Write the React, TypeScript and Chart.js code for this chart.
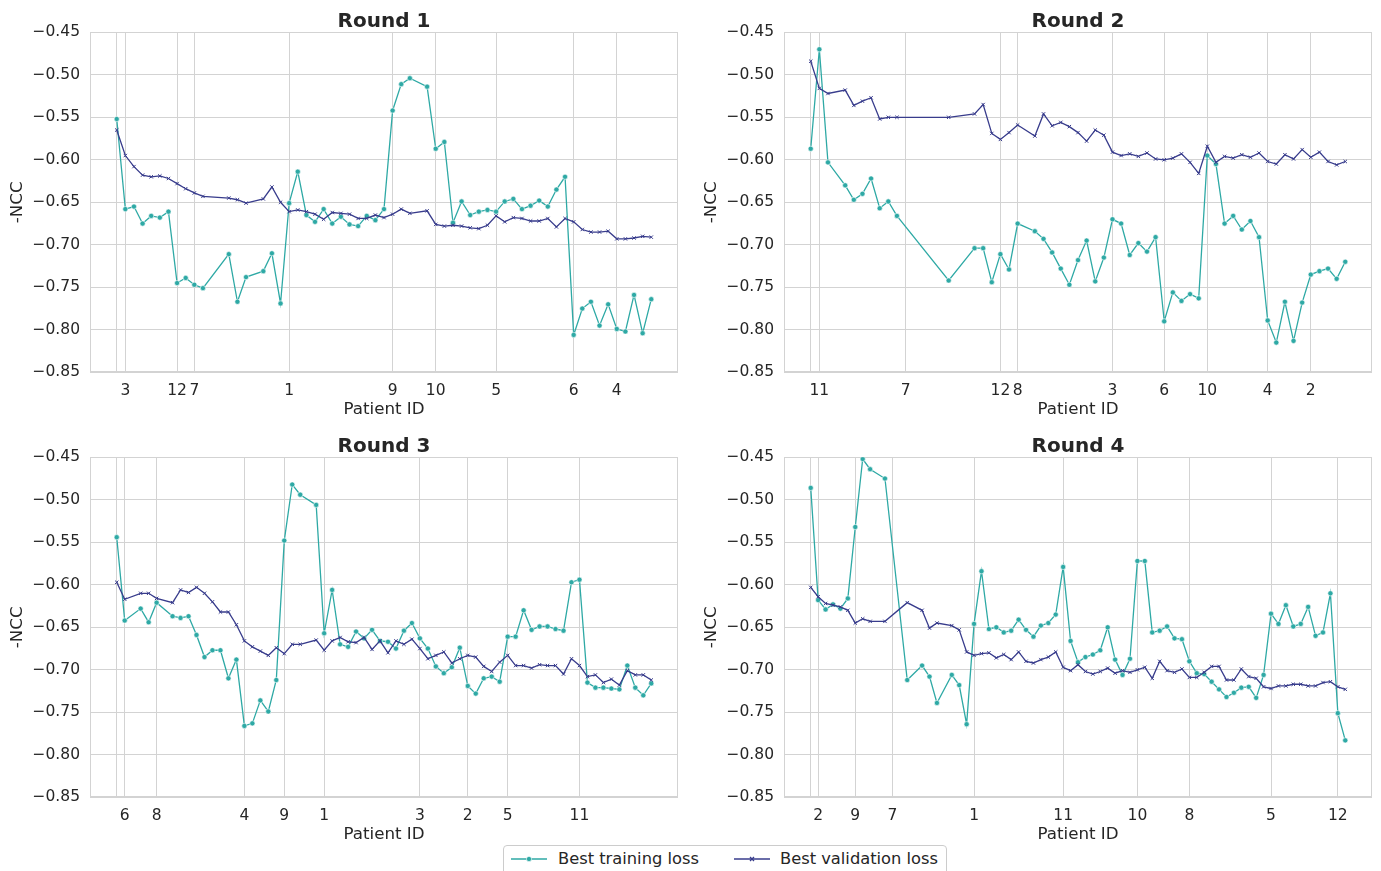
import React, { useEffect, useRef } from "react";
import { Chart, registerables } from "chart.js";

Chart.register(...registerables);
Chart.defaults.font.family = "'DejaVu Sans', sans-serif";
Chart.defaults.color = "#262626";

const TEAL = "#2ea9a5";
const NAVY = "#383c8c";
const GRID = "#d3d3d3";

// ---------- Round 1 ----------
const r1Ticks = [0, 1, 7, 9, 20, 32, 37, 44, 53, 58];
const r1TickLabels = ["", "3", "12", "7", "1", "9", "10", "5", "6", "4"];
const r1Idx = [0,1,2,3,4,5,6,7,8,9,10,13,14,15,17,18,19,20,21,22,23,24,25,26,27,28,29,30,31,32,33,34,36,37,38,39,40,41,42,43,44,45,46,47,48,49,50,51,52,53,54,55,56,57,58,59,60,61,62];
const r1Train = [-0.552,-0.658,-0.655,-0.675,-0.666,-0.668,-0.661,-0.745,-0.739,-0.747,-0.751,-0.711,-0.767,-0.738,-0.731,-0.710,-0.769,-0.651,-0.614,-0.665,-0.673,-0.658,-0.675,-0.667,-0.676,-0.678,-0.666,-0.671,-0.658,-0.542,-0.511,-0.504,-0.514,-0.587,-0.579,-0.674,-0.649,-0.665,-0.661,-0.659,-0.661,-0.649,-0.646,-0.658,-0.654,-0.648,-0.655,-0.635,-0.620,-0.806,-0.775,-0.767,-0.795,-0.770,-0.799,-0.802,-0.759,-0.804,-0.764];
const r1Val = [-0.565,-0.595,-0.608,-0.618,-0.620,-0.619,-0.622,-0.628,-0.634,-0.639,-0.643,-0.645,-0.647,-0.651,-0.646,-0.632,-0.650,-0.661,-0.659,-0.661,-0.664,-0.670,-0.662,-0.663,-0.664,-0.669,-0.669,-0.665,-0.668,-0.664,-0.658,-0.663,-0.660,-0.676,-0.678,-0.677,-0.678,-0.680,-0.681,-0.677,-0.666,-0.673,-0.668,-0.669,-0.672,-0.672,-0.669,-0.679,-0.669,-0.673,-0.682,-0.685,-0.685,-0.684,-0.693,-0.693,-0.692,-0.690,-0.691];

// ---------- Round 2 ----------
const r2Ticks = [0, 1, 11, 22, 24, 35, 41, 46, 53, 58];
const r2TickLabels = ["", "11", "7", "12", "8", "3", "6", "10", "4", "2"];
const r2Idx = [0,1,2,4,5,6,7,8,9,10,16,19,20,21,22,23,24,26,27,28,29,30,31,32,33,34,35,36,37,38,39,40,41,42,43,44,45,46,47,48,49,50,51,52,53,54,55,56,57,58,59,60,61,62];
const r2Train = [-0.587,-0.470,-0.603,-0.630,-0.647,-0.640,-0.622,-0.657,-0.649,-0.666,-0.742,-0.704,-0.704,-0.744,-0.711,-0.729,-0.675,-0.684,-0.693,-0.709,-0.728,-0.747,-0.718,-0.695,-0.743,-0.715,-0.670,-0.675,-0.712,-0.698,-0.708,-0.691,-0.790,-0.756,-0.766,-0.758,-0.763,-0.595,-0.605,-0.675,-0.666,-0.682,-0.672,-0.691,-0.789,-0.815,-0.767,-0.813,-0.768,-0.735,-0.731,-0.728,-0.740,-0.720];
const r2Val = [-0.484,-0.516,-0.522,-0.518,-0.536,-0.531,-0.527,-0.552,-0.550,-0.550,-0.550,-0.546,-0.535,-0.569,-0.576,-0.568,-0.559,-0.572,-0.546,-0.560,-0.556,-0.561,-0.568,-0.578,-0.565,-0.571,-0.591,-0.595,-0.593,-0.596,-0.592,-0.599,-0.600,-0.598,-0.593,-0.603,-0.616,-0.584,-0.603,-0.596,-0.598,-0.594,-0.597,-0.592,-0.602,-0.605,-0.594,-0.599,-0.588,-0.597,-0.591,-0.602,-0.606,-0.602];

// ---------- Round 3 ----------
const r3Ticks = [0, 1, 5, 16, 21, 26, 38, 44, 49, 58];
const r3TickLabels = ["", "6", "8", "4", "9", "1", "3", "2", "5", "11"];
const r3Idx = [0,1,3,4,5,7,8,9,10,11,12,13,14,15,16,17,18,19,20,21,22,23,25,26,27,28,29,30,31,32,33,34,35,36,37,38,39,40,41,42,43,44,45,46,47,48,49,50,51,52,53,54,55,56,57,58,59,60,61,62,63,64,65,66,67];
const r3Train = [-0.544,-0.642,-0.628,-0.644,-0.621,-0.637,-0.639,-0.637,-0.659,-0.685,-0.677,-0.677,-0.710,-0.688,-0.766,-0.763,-0.736,-0.749,-0.712,-0.548,-0.482,-0.494,-0.506,-0.657,-0.606,-0.670,-0.673,-0.655,-0.663,-0.653,-0.666,-0.667,-0.675,-0.654,-0.645,-0.663,-0.675,-0.696,-0.704,-0.697,-0.674,-0.719,-0.728,-0.710,-0.708,-0.714,-0.661,-0.661,-0.630,-0.653,-0.649,-0.649,-0.652,-0.654,-0.597,-0.594,-0.715,-0.721,-0.721,-0.722,-0.723,-0.695,-0.721,-0.730,-0.716];
const r3Val = [-0.597,-0.617,-0.610,-0.610,-0.616,-0.621,-0.606,-0.609,-0.603,-0.610,-0.620,-0.632,-0.632,-0.647,-0.666,-0.673,-0.678,-0.683,-0.674,-0.681,-0.670,-0.670,-0.665,-0.677,-0.666,-0.662,-0.667,-0.668,-0.662,-0.676,-0.666,-0.680,-0.666,-0.670,-0.664,-0.675,-0.687,-0.683,-0.679,-0.692,-0.687,-0.683,-0.685,-0.696,-0.702,-0.691,-0.683,-0.695,-0.695,-0.698,-0.694,-0.695,-0.695,-0.705,-0.687,-0.695,-0.708,-0.706,-0.715,-0.711,-0.718,-0.701,-0.706,-0.706,-0.712];

// ---------- Round 4 ----------
const r4Ticks = [0, 1, 6, 11, 22, 34, 44, 51, 62, 71];
const r4TickLabels = ["", "2", "9", "7", "1", "11", "10", "8", "5", "12"];
const r4Idx = [0,1,2,3,4,5,6,7,8,10,13,15,16,17,19,20,21,22,23,24,25,26,27,28,29,30,31,32,33,34,35,36,37,38,39,40,41,42,43,44,45,46,47,48,49,50,51,52,53,54,55,56,57,58,59,60,61,62,63,64,65,66,67,68,69,70,71,72];
const r4Train = [-0.486,-0.618,-0.629,-0.623,-0.628,-0.616,-0.532,-0.452,-0.464,-0.475,-0.712,-0.695,-0.708,-0.739,-0.706,-0.718,-0.764,-0.646,-0.584,-0.652,-0.650,-0.656,-0.654,-0.641,-0.653,-0.661,-0.648,-0.645,-0.635,-0.579,-0.666,-0.691,-0.685,-0.682,-0.677,-0.650,-0.688,-0.706,-0.687,-0.572,-0.572,-0.656,-0.654,-0.649,-0.663,-0.664,-0.690,-0.704,-0.705,-0.714,-0.723,-0.732,-0.727,-0.721,-0.720,-0.733,-0.706,-0.634,-0.646,-0.624,-0.649,-0.646,-0.626,-0.660,-0.656,-0.610,-0.751,-0.783];
const r4Val = [-0.603,-0.614,-0.622,-0.624,-0.626,-0.630,-0.645,-0.640,-0.643,-0.643,-0.621,-0.630,-0.651,-0.645,-0.648,-0.653,-0.679,-0.683,-0.681,-0.680,-0.686,-0.682,-0.688,-0.679,-0.690,-0.692,-0.688,-0.685,-0.679,-0.697,-0.701,-0.694,-0.702,-0.705,-0.702,-0.698,-0.704,-0.701,-0.703,-0.700,-0.697,-0.710,-0.690,-0.701,-0.703,-0.699,-0.709,-0.709,-0.703,-0.696,-0.696,-0.712,-0.712,-0.699,-0.708,-0.710,-0.720,-0.722,-0.719,-0.719,-0.717,-0.717,-0.719,-0.719,-0.715,-0.714,-0.720,-0.723];

const boxPlugin = {
  id: "plotBox",
  beforeDatasetsDraw(chart: any) {
    const { ctx, chartArea: a } = chart;
    ctx.save();
    ctx.strokeStyle = GRID;
    ctx.lineWidth = 1;
    ctx.strokeRect(Math.round(a.left) + 0.5, Math.round(a.top) + 0.5, Math.round(a.right - a.left) - 1, Math.round(a.bottom - a.top) - 1);
    ctx.restore();
  },
};

type RoundProps = {
  title: string;
  idx: number[];
  train: number[];
  val: number[];
  ticks: number[];
  tickLabels: string[];
  left: number;
  top: number;
  width: number;
  height: number;
  padRight: number;
};

function RoundChart(p: RoundProps) {
  const ref = useRef<HTMLCanvasElement | null>(null);
  useEffect(() => {
    const n = Math.max(...p.idx);
    const chart = new Chart(ref.current as HTMLCanvasElement, {
      type: "line",
      data: {
        datasets: [
          {
            label: "Best training loss",
            data: p.idx.map((x, i) => ({ x, y: p.train[i] })),
            borderColor: TEAL,
            backgroundColor: TEAL,
            borderWidth: 1.3,
            pointStyle: "circle",
            pointRadius: 2.6,
            pointBackgroundColor: TEAL,
            pointBorderColor: "#ffffff",
            pointBorderWidth: 0.6,
            tension: 0,
            order: 2,
          },
          {
            label: "Best validation loss",
            data: p.idx.map((x, i) => ({ x, y: p.val[i] })),
            borderColor: NAVY,
            backgroundColor: NAVY,
            borderWidth: 1.3,
            pointStyle: "crossRot",
            pointRadius: 2.4,
            pointBackgroundColor: NAVY,
            pointBorderColor: NAVY,
            pointBorderWidth: 1,
            tension: 0,
            order: 1,
          },
        ],
      },
      options: {
        responsive: false,
        animation: false,
        events: [],
        layout: { padding: { left: 0, right: p.padRight, top: 0, bottom: 0 } },
        plugins: {
          legend: { display: false },
          tooltip: { enabled: false },
          title: {
            display: true,
            text: p.title,
            fullSize: false,
            color: "#262626",
            font: { size: 20, weight: "bold", lineHeight: 1 },
            padding: { top: 12, bottom: 0.3 },
          },
        },
        scales: {
          x: {
            type: "linear",
            min: -0.05 * n,
            max: 1.05 * n,
            afterBuildTicks: (s: any) => {
              s.ticks = p.ticks.map((v) => ({ value: v }));
            },
            afterFit: (s: any) => {
              s.height = 52.7;
            },
            ticks: {
              autoSkip: false,
              maxRotation: 0,
              minRotation: 0,
              padding: 9,
              color: "#262626",
              font: { size: 15.5 },
              callback: (_v: any, i: number) => p.tickLabels[i],
            },
            grid: { color: GRID, lineWidth: 1, drawTicks: false },
            border: { display: false },
            title: {
              display: true,
              text: "Patient ID",
              color: "#262626",
              font: { size: 16.7 },
              padding: { top: 0, bottom: 5 },
            },
          },
          y: {
            min: -0.85,
            max: -0.45,
            afterFit: (s: any) => {
              s.width = 90;
            },
            ticks: {
              stepSize: 0.05,
              padding: 10,
              color: "#262626",
              font: { size: 15.5 },
              callback: (v: any) => "\u2212" + Math.abs(Number(v)).toFixed(2),
            },
            grid: { color: GRID, lineWidth: 1, drawTicks: false },
            border: { display: false },
            title: {
              display: true,
              text: "-NCC",
              color: "#262626",
              font: { size: 16.7 },
              padding: { top: 8, bottom: 0 },
            },
          },
        },
      } as any,
      plugins: [boxPlugin],
    });
    return () => chart.destroy();
  }, []);
  return (
    <canvas
      ref={ref}
      width={p.width}
      height={p.height}
      style={{ position: "absolute", left: p.left, top: p.top, width: p.width, height: p.height }}
    />
  );
}

function Legend() {
  const font = "'DejaVu Sans', sans-serif";
  return (
    <div
      style={{
        position: "absolute",
        left: 503,
        top: 845,
        width: 444,
        height: 34,
        boxSizing: "border-box",
        border: "1px solid #cccccc",
        borderRadius: 4,
        background: "#ffffff",
        fontFamily: font,
        fontSize: 16.3,
        color: "#262626",
      }}
    >
      <svg width={40} height={20} style={{ position: "absolute", left: 6, top: 3 }}>
        <line x1={1} y1={10} x2={37} y2={10} stroke={TEAL} strokeWidth={1.3} />
        <circle cx={19} cy={10} r={2.6} fill={TEAL} stroke="#fff" strokeWidth={0.6} />
      </svg>
      <span style={{ position: "absolute", left: 54, top: 3, lineHeight: "20px", whiteSpace: "nowrap" }}>Best training loss</span>
      <svg width={40} height={20} style={{ position: "absolute", left: 229, top: 3 }}>
        <line x1={1} y1={10} x2={37} y2={10} stroke={NAVY} strokeWidth={1.3} />
        <line x1={17} y1={8} x2={21} y2={12} stroke={NAVY} strokeWidth={1.2} />
        <line x1={17} y1={12} x2={21} y2={8} stroke={NAVY} strokeWidth={1.2} />
      </svg>
      <span style={{ position: "absolute", left: 276, top: 3, lineHeight: "20px", whiteSpace: "nowrap" }}>Best validation loss</span>
    </div>
  );
}

export default function App() {
  return (
    <div
      style={{
        position: "absolute",
        left: 0,
        top: 0,
        width: 1381,
        height: 871,
        overflow: "hidden",
        background: "#ffffff",
      }}
    >
      <RoundChart title="Round 1" idx={r1Idx} train={r1Train} val={r1Val} ticks={r1Ticks} tickLabels={r1TickLabels} left={0} top={0} width={690} height={425} padRight={12} />
      <RoundChart title="Round 2" idx={r2Idx} train={r2Train} val={r2Val} ticks={r2Ticks} tickLabels={r2TickLabels} left={694} top={0} width={687} height={425} padRight={9} />
      <RoundChart title="Round 3" idx={r3Idx} train={r3Train} val={r3Val} ticks={r3Ticks} tickLabels={r3TickLabels} left={0} top={425} width={690} height={425} padRight={12} />
      <RoundChart title="Round 4" idx={r4Idx} train={r4Train} val={r4Val} ticks={r4Ticks} tickLabels={r4TickLabels} left={694} top={425} width={687} height={425} padRight={9} />
      <Legend />
    </div>
  );
}
